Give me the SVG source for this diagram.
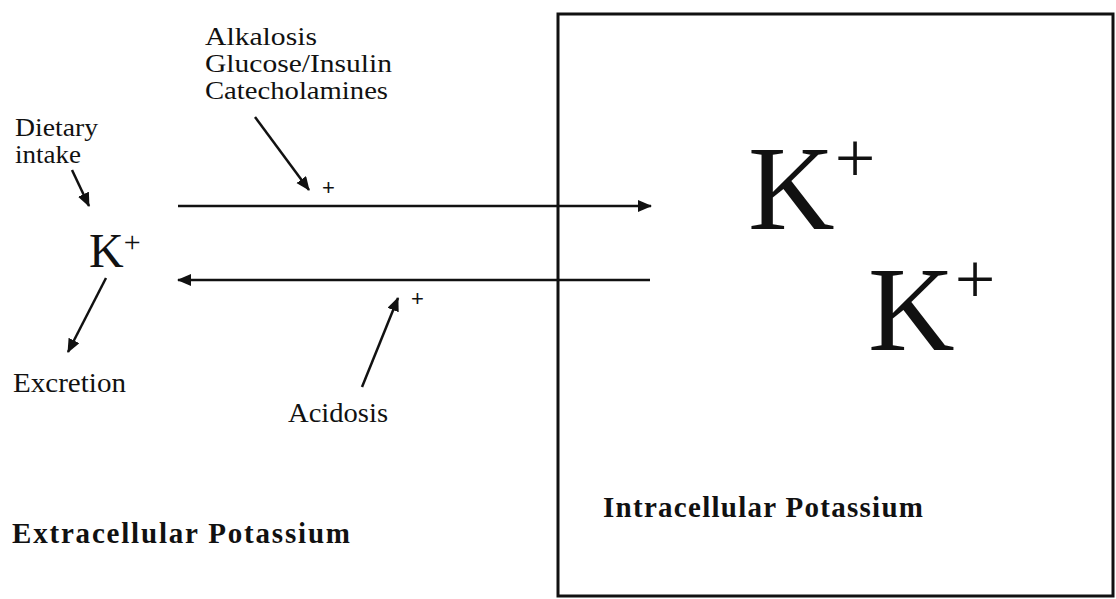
<svg xmlns="http://www.w3.org/2000/svg" width="1116" height="599" viewBox="0 0 1116 599">
<style>
.t{font-family:"Liberation Serif","Times New Roman",serif;fill:#111}
.lbl{font-size:25px}
.b{font-family:"Liberation Serif","Times New Roman",serif;font-weight:bold;font-size:29px;fill:#111}
.ln{stroke:#111;stroke-width:2.5;fill:none}
.p{font-family:"Liberation Sans",Arial,sans-serif;font-size:22px;fill:#111}
</style>
<defs>
<marker id="ah" markerUnits="userSpaceOnUse" markerWidth="16" markerHeight="14" refX="13" refY="6" orient="auto">
<path d="M0,0 L14,6 L0,12 z" fill="#111"/>
</marker>
</defs>
<rect width="1116" height="599" fill="#fff"/>
<g id="intracellular">
<rect x="558" y="14" width="555" height="582" fill="none" stroke="#111" stroke-width="3"/>
<text class="b" x="603" y="517" textLength="320" lengthAdjust="spacing">Intracellular  Potassium</text>
</g>
<g id="k-intra-1"><text class="t" x="748" y="229" font-size="120">K<tspan font-size="72" dy="-47">+</tspan></text></g>
<g id="k-intra-2"><text class="t" x="868" y="350" font-size="120">K<tspan font-size="72" dy="-47">+</tspan></text></g>
<g id="extracellular"><text class="b" x="12" y="543" textLength="338" lengthAdjust="spacing">Extracellular  Potassium</text></g>
<g id="k-extra"><text class="t" x="89" y="267" font-size="48">K<tspan font-size="30" dy="-15">+</tspan></text></g>
<g id="uptake-factors"><text class="t lbl" x="205" y="45" textLength="112" lengthAdjust="spacingAndGlyphs">Alkalosis</text><text class="t lbl" x="205" y="72" textLength="187" lengthAdjust="spacingAndGlyphs">Glucose/Insulin</text><text class="t lbl" x="205" y="99" textLength="183" lengthAdjust="spacingAndGlyphs">Catecholamines</text></g>
<g id="dietary"><text class="t lbl" x="15" y="136" textLength="83" lengthAdjust="spacingAndGlyphs">Dietary</text><text class="t lbl" x="15" y="163" textLength="66" lengthAdjust="spacingAndGlyphs">intake</text></g>
<g id="excretion"><text class="t" font-size="27" x="13" y="392" textLength="113" lengthAdjust="spacingAndGlyphs">Excretion</text></g>
<g id="acidosis"><text class="t" font-size="27" x="288" y="422" textLength="100" lengthAdjust="spacingAndGlyphs">Acidosis</text></g>
<g id="plus-signs"><text class="p" x="322" y="195">+</text><text class="p" x="411" y="306">+</text></g>
<g id="connectors">
<line class="ln" x1="178" y1="206" x2="651" y2="206" marker-end="url(#ah)"/>
<line class="ln" x1="650" y1="280" x2="178" y2="280" marker-end="url(#ah)"/>
<line class="ln" x1="72" y1="170" x2="89" y2="206" marker-end="url(#ah)"/>
<line class="ln" x1="106" y1="278" x2="68" y2="352" marker-end="url(#ah)"/>
<line class="ln" x1="255" y1="117" x2="309" y2="190" marker-end="url(#ah)"/>
<line class="ln" x1="362" y1="387" x2="398" y2="298" marker-end="url(#ah)"/>
</g>
</svg>
